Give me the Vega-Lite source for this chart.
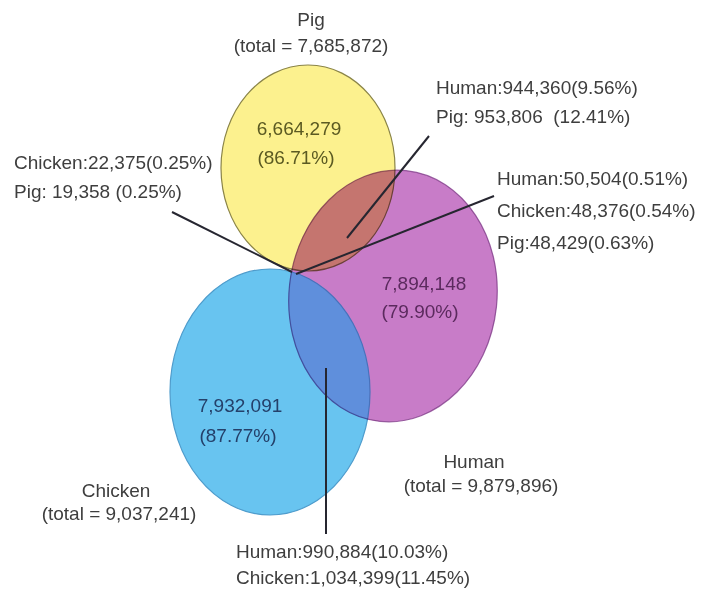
{
  "$schema": "https://vega.github.io/schema/vega-lite/v6.json",
  "width": 702,
  "height": 589,
  "autosize": {"type": "fit", "contains": "padding"},
  "padding": 0,
  "background": "white",
  "config": {"view": {"stroke": null}, "text": {"font": "Liberation Sans", "fontSize": 19}},
  "datasets": {
    "sets": [
      {"set": "Pig", "x": 308, "y": 168},
      {"set": "Human", "x": 393, "y": 296},
      {"set": "Chicken", "x": 270, "y": 392}
    ],
    "leaders": [
      {"x": 172, "y": 212, "x2": 292, "y2": 272},
      {"x": 296, "y": 274, "x2": 494, "y2": 196},
      {"x": 347, "y": 238, "x2": 429, "y2": 136},
      {"x": 326, "y": 368, "x2": 326, "y2": 534}
    ],
    "labels": [
      {"text": "Pig", "kind": "title", "tone": "outer", "x": 311, "y": 20},
      {"text": "(total = 7,685,872)", "kind": "title", "tone": "outer", "x": 311, "y": 46},
      {"text": "6,664,279", "kind": "title", "tone": "pig", "x": 299, "y": 129},
      {"text": "(86.71%)", "kind": "title", "tone": "pig", "x": 296, "y": 158},
      {"text": "7,894,148", "kind": "title", "tone": "human", "x": 424, "y": 284},
      {"text": "(79.90%)", "kind": "title", "tone": "human", "x": 420, "y": 312},
      {"text": "7,932,091", "kind": "title", "tone": "chicken", "x": 240, "y": 406},
      {"text": "(87.77%)", "kind": "title", "tone": "chicken", "x": 238, "y": 436},
      {"text": "Human", "kind": "title", "tone": "outer", "x": 474, "y": 462},
      {"text": "(total = 9,879,896)", "kind": "title", "tone": "outer", "x": 481, "y": 486},
      {"text": "Chicken", "kind": "title", "tone": "outer", "x": 116, "y": 491},
      {"text": "(total = 9,037,241)", "kind": "title", "tone": "outer", "x": 119, "y": 514},
      {"text": "Chicken:22,375(0.25%)", "kind": "callout", "tone": "outer", "x": 14, "y": 163},
      {"text": "Pig: 19,358 (0.25%)", "kind": "callout", "tone": "outer", "x": 14, "y": 192},
      {"text": "Human:944,360(9.56%)", "kind": "callout", "tone": "outer", "x": 436, "y": 88},
      {"text": "Pig: 953,806\u00a0 (12.41%)", "kind": "callout", "tone": "outer", "x": 436, "y": 117},
      {"text": "Human:50,504(0.51%)", "kind": "callout", "tone": "outer", "x": 497, "y": 179},
      {"text": "Chicken:48,376(0.54%)", "kind": "callout", "tone": "outer", "x": 497, "y": 211},
      {"text": "Pig:48,429(0.63%)", "kind": "callout", "tone": "outer", "x": 497, "y": 243},
      {"text": "Human:990,884(10.03%)", "kind": "callout", "tone": "outer", "x": 236, "y": 552},
      {"text": "Chicken:1,034,399(11.45%)", "kind": "callout", "tone": "outer", "x": 236, "y": 578}
    ]
  },
  "encoding": {
    "x": {"field": "x", "type": "quantitative", "scale": {"domain": [0, 702], "nice": false, "zero": false}, "axis": null},
    "y": {"field": "y", "type": "quantitative", "scale": {"domain": [0, 589], "nice": false, "zero": false, "reverse": true}, "axis": null}
  },
  "layer": [
    {
      "data": {"name": "sets"},
      "transform": [{"filter": "datum.set === 'Human'"}],
      "mark": {"type": "point", "shape": "M 1.0343 0.1087 C 0.9616 0.8008 0.4395 1.3131 -0.1317 1.2531 C -0.7029 1.1931 -1.107 0.5834 -1.0343 -0.1087 C -0.9616 -0.8008 -0.4395 -1.3131 0.1317 -1.2531 C 0.7029 -1.1931 1.107 -0.5834 1.0343 0.1087 Z", "size": 40000, "filled": true, "fill": "#dbaada", "strokeWidth": 0, "opacity": 1}
    },
    {
      "data": {"name": "sets"},
      "transform": [{"filter": "datum.set === 'Chicken'"}],
      "mark": {"type": "point", "shape": "M 1 0 C 1 0.6793 0.5523 1.23 0 1.23 C -0.5523 1.23 -1 0.6793 -1 0 C -1 -0.6793 -0.5523 -1.23 0 -1.23 C 0.5523 -1.23 1 -0.6793 1 0 Z", "size": 40000, "filled": true, "fill": "#68c4f0", "stroke": "#4f9ccc", "strokeWidth": 1.2, "opacity": 1}
    },
    {
      "data": {"name": "sets"},
      "transform": [{"filter": "datum.set === 'Human'"}],
      "mark": {"type": "point", "shape": "M 1.0343 0.1087 C 0.9616 0.8008 0.4395 1.3131 -0.1317 1.2531 C -0.7029 1.1931 -1.107 0.5834 -1.0343 -0.1087 C -0.9616 -0.8008 -0.4395 -1.3131 0.1317 -1.2531 C 0.7029 -1.1931 1.107 -0.5834 1.0343 0.1087 Z", "size": 40000, "filled": true, "fill": "#e9baea", "stroke": "#a068a8", "strokeWidth": 1.2, "opacity": 1, "blend": "multiply"}
    },
    {
      "data": {"name": "sets"},
      "transform": [{"filter": "datum.set === 'Pig'"}],
      "mark": {"type": "point", "shape": "M 0.87 0 C 0.87 0.5689 0.4805 1.03 0 1.03 C -0.4805 1.03 -0.87 0.5689 -0.87 0 C -0.87 -0.5689 -0.4805 -1.03 0 -1.03 C 0.4805 -1.03 0.87 -0.5689 0.87 0 Z", "size": 40000, "filled": true, "fill": "#fcf18e", "stroke": "#8a8448", "strokeWidth": 1.2, "opacity": 1, "blend": "multiply"}
    },
    {
      "data": {"name": "leaders"},
      "mark": {"type": "rule", "stroke": "#262630", "strokeWidth": 2},
      "encoding": {"x2": {"field": "x2"}, "y2": {"field": "y2"}}
    },
    {
      "data": {"name": "labels"},
      "transform": [{"filter": "datum.kind === 'callout'"}],
      "mark": {"type": "text", "align": "left", "baseline": "middle"},
      "encoding": {
        "text": {"field": "text"},
        "color": {"field": "tone", "type": "nominal", "scale": {"domain": ["outer", "pig", "human", "chicken"], "range": ["#3e3e3e", "#5b5a22", "#5b2a5e", "#24406a"]}, "legend": null}
      }
    },
    {
      "data": {"name": "labels"},
      "transform": [{"filter": "datum.kind === 'title'"}],
      "mark": {"type": "text", "align": "center", "baseline": "middle"},
      "encoding": {
        "text": {"field": "text"},
        "color": {"field": "tone", "type": "nominal", "scale": {"domain": ["outer", "pig", "human", "chicken"], "range": ["#3e3e3e", "#5b5a22", "#5b2a5e", "#24406a"]}, "legend": null}
      }
    }
  ]
}
